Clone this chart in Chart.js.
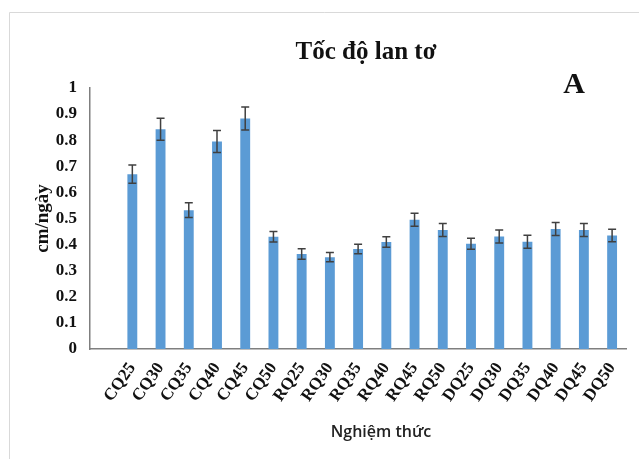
<!DOCTYPE html>
<html>
<head>
<meta charset="utf-8">
<script src="https://cdn.jsdelivr.net/npm/chart.js@4"></script>
<style>
  html, body { margin: 0; padding: 0; background: #fff; }
  #wrap { width: 639px; height: 459px; position: relative; }
</style>
</head>
<body>
<div id="wrap"><canvas id="chart"></canvas></div>
<script>
// first slot is left empty, as in the original figure
const categories = ["", "CQ25", "CQ30", "CQ35", "CQ40", "CQ45", "CQ50", "RQ25", "RQ30", "RQ35",
  "RQ40", "RQ45", "RQ50", "DQ25", "DQ30", "DQ35", "DQ40", "DQ45", "DQ50"];
const tocDo = [null, 0.67, 0.842, 0.532, 0.795, 0.883, 0.43, 0.364, 0.352, 0.383,
  0.41, 0.495, 0.456, 0.403, 0.431, 0.411, 0.46, 0.456, 0.435];
const saiSo = [null, 0.035, 0.042, 0.028, 0.042, 0.044, 0.02, 0.02, 0.018, 0.018,
  0.02, 0.025, 0.025, 0.021, 0.025, 0.025, 0.025, 0.025, 0.024];
const yTicks = [0, 0.1, 0.2, 0.3, 0.4, 0.5, 0.6, 0.7, 0.8, 0.9, 1];

const serif = "'Liberation Serif', 'Times New Roman', serif";

const errorBars = {
  id: "errorBars",
  afterDatasetsDraw(chart) {
    const ctx = chart.ctx;
    const y = chart.scales.y;
    const meta = chart.getDatasetMeta(0);
    ctx.save();
    ctx.strokeStyle = "#404040";
    ctx.lineWidth = 1.5;
    meta.data.forEach((bar, i) => {
      const v = tocDo[i], e = saiSo[i];
      if (v == null || e == null) return;
      const top = y.getPixelForValue(v + e);
      const bot = y.getPixelForValue(v - e);
      ctx.beginPath();
      ctx.moveTo(bar.x, top); ctx.lineTo(bar.x, bot);
      ctx.moveTo(bar.x - 4, top); ctx.lineTo(bar.x + 4, top);
      ctx.moveTo(bar.x - 4, bot); ctx.lineTo(bar.x + 4, bot);
      ctx.stroke();
    });
    ctx.restore();
  }
};

const decor = {
  id: "decor",
  beforeDraw(chart) {
    const ctx = chart.ctx;
    ctx.save();
    ctx.fillStyle = "#fff";
    ctx.fillRect(0, 0, chart.width, chart.height);
    ctx.strokeStyle = "#d9d9d9";
    ctx.lineWidth = 1;
    ctx.beginPath();
    ctx.moveTo(9.5, chart.height);
    ctx.lineTo(9.5, 12.5);
    ctx.lineTo(chart.width, 12.5);
    ctx.stroke();
    ctx.restore();
  },
  afterDraw(chart) {
    const ctx = chart.ctx;
    ctx.save();
    ctx.fillStyle = "#111";
    ctx.textAlign = "center";
    ctx.textBaseline = "alphabetic";
    ctx.font = "bold 25px " + serif;
    ctx.fillText("Tốc độ lan tơ", 366, 59);
    ctx.font = "bold 30px " + serif;
    ctx.fillText("A", 574, 93);
    ctx.font = "600 16px 'Open Sans', sans-serif";
    ctx.fillStyle = "#222";
    ctx.textBaseline = "middle";
    ctx.fillText("Nghiệm thức", 381, 432);
    ctx.restore();
  }
};

new Chart(document.getElementById("chart"), {
  type: "bar",
  data: {
    labels: categories,
    datasets: [{
      label: "Tốc độ lan tơ",
      data: tocDo,
      backgroundColor: "#5b9bd5",
      borderWidth: 0,
      barPercentage: 0.35,
      categoryPercentage: 1
    }]
  },
  options: {
    responsive: true,
    maintainAspectRatio: false,
    animation: false,
    layout: { padding: { left: 9, right: 7, top: 88, bottom: 0 } },
    plugins: {
      legend: { display: false },
      tooltip: { enabled: false }
    },
    scales: {
      x: {
        grid: { display: false, drawTicks: false },
        border: { color: "#7f7f7f", width: 1.5 },
        afterFit: (s) => { s.height = 110; },
        ticks: {
          autoSkip: false,
          minRotation: 55,
          maxRotation: 55,
          padding: 10,
          color: "#111",
          font: { family: serif, size: 17, weight: "bold" }
        }
      },
      y: {
        min: 0,
        max: 1,
        grid: { display: false, drawTicks: false },
        border: { color: "#7f7f7f", width: 1.5 },
        afterFit: (s) => { s.width = 81; },
        afterBuildTicks: (s) => { s.ticks = yTicks.map(v => ({ value: v })); },
        ticks: {
          padding: 13,
          color: "#111",
          font: { family: serif, size: 17, weight: "bold" },
          callback: (v) => String(Number(v.toFixed(1)))
        },
        title: {
          display: true,
          text: "cm/ngày",
          color: "#111",
          padding: { top: 23, bottom: 0 },
          font: { family: serif, size: 19, weight: "bold" }
        }
      }
    }
  },
  plugins: [decor, errorBars]
});
</script>
</body>
</html>
